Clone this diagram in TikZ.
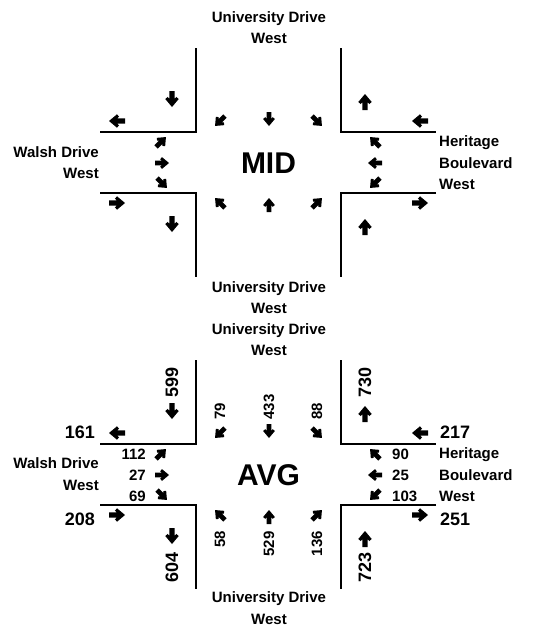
\documentclass[tikz,border=0pt]{standalone}
\usepackage{fontspec}
\setmainfont{Liberation Sans}
\tikzset{
  pics/arr/.style={code={
    \fill (0.5,0) -- (0,0.42) -- (-0.129,0.267) -- (-0.014,0.17) -- (-0.5,0.17)
      -- (-0.5,-0.17) -- (-0.014,-0.17) -- (-0.129,-0.267) -- (0,-0.42) -- cycle;}},
  road/.style={line width=2pt},
  street/.style={font=\fontsize{15}{21.5}\selectfont\bfseries, inner sep=0pt},
  bignum/.style={font=\fontsize{18}{20}\selectfont\bfseries, inner sep=0pt},
  smallnum/.style={font=\fontsize{15}{17}\selectfont\bfseries, inner sep=0pt},
  title/.style={font=\fontsize{30}{32}\selectfont\bfseries, inner sep=0pt},
}
\newcommand\arrowset{%
  \pic[rotate=270,scale=16] at (172,99) {arr};
  \pic[rotate=180,scale=16] at (117,121) {arr};
  \pic[rotate=225,scale=14] at (220,121) {arr};
  \pic[rotate=270,scale=14] at (269,119) {arr};
  \pic[rotate=315,scale=14] at (317,121) {arr};
  \pic[rotate=90,scale=16] at (365,102) {arr};
  \pic[rotate=180,scale=16] at (420,121) {arr};
  \pic[rotate=45,scale=14] at (161,142) {arr};
  \pic[rotate=0,scale=14] at (162,163) {arr};
  \pic[rotate=315,scale=14] at (162,183) {arr};
  \pic[rotate=135,scale=14] at (375,142) {arr};
  \pic[rotate=180,scale=14] at (375,163) {arr};
  \pic[rotate=225,scale=14] at (375,183) {arr};
  \pic[rotate=135,scale=14] at (220,203) {arr};
  \pic[rotate=90,scale=14] at (269,205) {arr};
  \pic[rotate=45,scale=14] at (317,203) {arr};
  \pic[rotate=0,scale=16] at (117,203) {arr};
  \pic[rotate=270,scale=16] at (172,224) {arr};
  \pic[rotate=0,scale=16] at (420,203) {arr};
  \pic[rotate=90,scale=16] at (365,227) {arr};
  \draw[road] (196,48) -- (196,132) -- (100,132);
  \draw[road] (341,48) -- (341,132) -- (436,132);
  \draw[road] (100,193) -- (196,193) -- (196,277);
  \draw[road] (436,193) -- (341,193) -- (341,277);
}
\begin{document}
\begin{tikzpicture}[x=1pt,y=-1pt]
\useasboundingbox (0,0) rectangle (557,627);
% top intersection
\begin{scope}
\arrowset
\end{scope}
\begin{scope}[shift={(0,312)}]
\arrowset
\end{scope}
% street names, top
\node[street, align=center] (tN) at (269,27.5) {University Drive\\West};
\node[street, align=center] (tS) at (269,297.5) {University Drive\\West};
\node[street, align=right, anchor=east] (tW) at (99,162.5) {Walsh Drive\\West};
\node[street, align=left, anchor=west] (tE) at (439,163) {Heritage\\Boulevard\\West};
\node[title] (mid) at (268.5,163) {MID};
% street names, bottom
\node[street, align=center] (bN) at (269,339.5) {University Drive\\West};
\node[street, align=center] (bS) at (269,608) {University Drive\\West};
\node[street, align=right, anchor=east] (bW) at (99,474) {Walsh Drive\\West};
\node[street, align=left, anchor=west] (bE) at (439,475) {Heritage\\Boulevard\\West};
\node[title] (avg) at (268.5,475) {AVG};
% volumes
\node[bignum, rotate=90] (n599) at (172,382) {599};
\node[bignum, anchor=east] (n161) at (95,432) {161};
\node[smallnum, rotate=90] (n79) at (220,411) {79};
\node[smallnum, rotate=90] (n433) at (269,407) {433};
\node[smallnum, rotate=90] (n88) at (317,411) {88};
\node[bignum, rotate=90] (n730) at (365,382) {730};
\node[bignum, anchor=west] (n217) at (440,432) {217};
\node[smallnum, anchor=east] (n112) at (146,454) {112};
\node[smallnum, anchor=east] (n27) at (146,475) {27};
\node[smallnum, anchor=east] (n69) at (146,496) {69};
\node[smallnum, anchor=west] (n90) at (392,454) {90};
\node[smallnum, anchor=west] (n25) at (392,475) {25};
\node[smallnum, anchor=west] (n103) at (392,496) {103};
\node[bignum, anchor=east] (n208) at (95,519) {208};
\node[bignum, anchor=west] (n251) at (440,519) {251};
\node[smallnum, rotate=90] (n58) at (220,539.5) {58};
\node[smallnum, rotate=90] (n529) at (269,544) {529};
\node[smallnum, rotate=90] (n136) at (317,543.5) {136};
\node[bignum, rotate=90] (n604) at (172,567) {604};
\node[bignum, rotate=90] (n723) at (365,567.5) {723};
\end{tikzpicture}
\end{document}
